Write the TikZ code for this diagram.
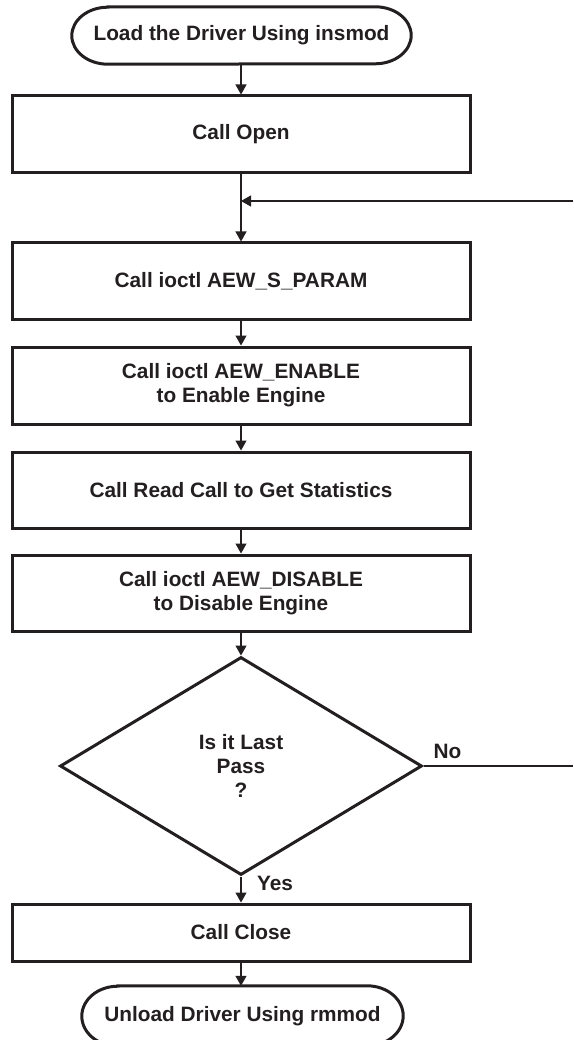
\documentclass[tikz,border=0pt]{standalone}
\usepackage{fontspec}
\setmainfont{Liberation Sans}
\usetikzlibrary{arrows.meta,shapes.geometric}
\definecolor{ink}{HTML}{231F20}
\begin{document}
\begin{tikzpicture}[x=1pt,y=1pt,
  base/.style={font=\bfseries\fontsize{20.8}{24}\selectfont, text=ink, align=center, inner sep=0pt},
  procbox/.style={base, draw=ink, line width=3pt, rectangle, minimum width=458pt},
  termnode/.style={base},
  termline/.style={draw=ink, line width=3pt},
  decbox/.style={base, draw=ink, line width=3pt, diamond, minimum width=362pt, minimum height=218pt},
  arr/.style={draw=ink, line width=1.2pt, -{Triangle[length=10pt,width=11pt]}},
  plainline/.style={draw=ink, line width=1.2pt},
  lbl/.style={font=\bfseries\fontsize{20.8}{24}\selectfont, text=ink, inner sep=0pt}]

\useasboundingbox (0,0) rectangle (573,-1040);

% nodes
\node[termnode, minimum width=339pt, minimum height=57pt] (start) at (241.5,-35.5) {Load the Driver Using insmod};
\node[procbox, minimum height=77pt] (open) at (241,-134.5) {Call Open};
\node[procbox, minimum height=76pt] (sparam) at (241,-281) {Call ioctl AEW\_S\_PARAM};
\node[procbox, minimum height=77pt] (enable) at (241,-385.5) {Call ioctl AEW\_ENABLE\\to Enable Engine};
\node[procbox, minimum height=76pt] (read) at (241,-490) {Call Read Call to Get Statistics};
\node[procbox, minimum height=76pt] (disable) at (241,-593) {Call ioctl AEW\_DISABLE\\to Disable Engine};
\node[decbox] (dec) at (241,-766) {Is it Last\\Pass\\?};
\node[procbox, minimum height=57pt] (close) at (241,-932.5) {Call Close};
\node[termnode, minimum width=321pt, minimum height=60pt] (endt) at (242.5,-1016) {Unload Driver Using rmmod};

% terminal outlines
\draw[termline] ([xshift=36pt]start.north west) -- ([xshift=-36pt]start.north east)
  arc[start angle=90,end angle=-90,x radius=36pt,y radius=28.5pt]
  -- ([xshift=36pt]start.south west)
  arc[start angle=270,end angle=90,x radius=36pt,y radius=28.5pt] -- cycle;
\draw[termline] ([xshift=36pt]endt.north west) -- ([xshift=-36pt]endt.north east)
  arc[start angle=90,end angle=-90,x radius=36pt,y radius=30pt]
  -- ([xshift=36pt]endt.south west)
  arc[start angle=270,end angle=90,x radius=36pt,y radius=30pt] -- cycle;

% connectors
\coordinate (loopR) at (573,-201);
\coordinate (noR) at (573,-766);
\draw[arr] (start.south -| open.north) -- (open.north);
\draw[arr] (open.south) -- (sparam.north);
\draw[arr] (loopR) -- (loopR -| open.south);
\draw[arr] (sparam.south) -- (enable.north);
\draw[arr] (enable.south) -- (read.north);
\draw[arr] (read.south) -- (disable.north);
\draw[arr] (disable.south) -- (dec.north);
\draw[arr] (dec.south) -- (close.north);
\draw[arr] (close.south) -- (close.south |- endt.north);
\draw[plainline] (dec.east) -- (noR);

% labels
\node[lbl, anchor=west] (yes) at ([xshift=16pt,yshift=-7pt]dec.south) {Yes};
\node[lbl, anchor=west] (no) at ([xshift=10pt,yshift=15pt]dec.east) {No};
\end{tikzpicture}
\end{document}
